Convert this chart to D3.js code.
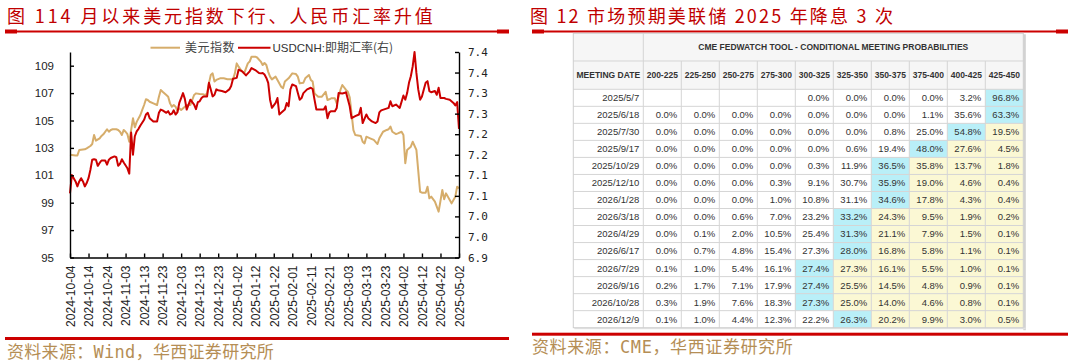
<!DOCTYPE html>
<html><head><meta charset="utf-8">
<script src="https://cdn.jsdelivr.net/npm/d3@7"></script>
<style>
body{margin:0;background:#fff;}
svg{display:block;}
</style></head><body>
<svg id="c" width="1074" height="362"></svg>
<script>
// ---------------- DATA ----------------
const dxy = [
["2024-10-04",102.5],["2024-10-07",102.45],["2024-10-08",102.45],["2024-10-09",102.85],["2024-10-12",102.9],["2024-10-13",102.97],["2024-10-15",103.14],["2024-10-16",103.28],["2024-10-17",103.94],["2024-10-18",103.53],["2024-10-20",103.7],["2024-10-21",103.87],["2024-10-22",103.99],["2024-10-24",104.36],["2024-10-25",104.18],["2024-10-26",104.31],["2024-10-27",104.36],["2024-10-29",104.36],["2024-10-30",104.31],["2024-10-31",104.18],["2024-11-01",103.94],["2024-11-02",104.31],["2024-11-03",104.18],["2024-11-04",104.0],["2024-11-05",103.45],["2024-11-07",105.16],["2024-11-08",104.5],["2024-11-09",104.9],["2024-11-11",105.4],["2024-11-12",105.77],["2024-11-13",106.13],["2024-11-14",106.55],["2024-11-15",106.5],["2024-11-16",106.37],["2024-11-18",106.25],["2024-11-20",106.13],["2024-11-21",106.74],["2024-11-22",107.23],["2024-11-23",107.1],["2024-11-25",106.86],["2024-11-26",106.74],["2024-11-27",106.25],["2024-11-28",106.01],["2024-11-29",106.13],["2024-11-30",106.01],["2024-12-01",105.69],["2024-12-02",105.89],["2024-12-03",105.77],["2024-12-05",106.01],["2024-12-06",106.13],["2024-12-08",106.13],["2024-12-09",106.5],["2024-12-10",106.86],["2024-12-11",106.98],["2024-12-13",106.93],["2024-12-15",106.91],["2024-12-16",106.86],["2024-12-17",106.98],["2024-12-18",107.71],["2024-12-19",108.32],["2024-12-20",108.44],["2024-12-21",107.84],["2024-12-22",107.96],["2024-12-24",108.08],["2024-12-26",108.08],["2024-12-28",108.01],["2024-12-29",108.01],["2024-12-31",108.01],["2025-01-01",108.44],["2025-01-02",109.17],["2025-01-03",108.93],["2025-01-05",108.56],["2025-01-06",108.44],["2025-01-07",108.81],["2025-01-08",109.17],["2025-01-09",109.3],["2025-01-10",109.66],["2025-01-12",109.66],["2025-01-13",109.6],["2025-01-15",109.3],["2025-01-16",109.05],["2025-01-17",109.2],["2025-01-18",109.05],["2025-01-19",108.55],["2025-01-20",108.2],["2025-01-21",108.0],["2025-01-23",108.2],["2025-01-24",107.96],["2025-01-26",107.47],["2025-01-27",107.35],["2025-01-28",107.84],["2025-01-30",108.08],["2025-02-01",108.44],["2025-02-03",108.39],["2025-02-04",108.2],["2025-02-05",107.71],["2025-02-07",107.76],["2025-02-08",108.08],["2025-02-10",108.32],["2025-02-11",107.96],["2025-02-12",107.84],["2025-02-13",106.98],["2025-02-15",106.74],["2025-02-17",106.74],["2025-02-19",107.1],["2025-02-20",106.5],["2025-02-21",106.55],["2025-02-22",106.62],["2025-02-24",106.62],["2025-02-25",106.25],["2025-02-27",107.23],["2025-02-28",107.59],["2025-03-02",107.23],["2025-03-03",107.1],["2025-03-04",106.7],["2025-03-05",105.5],["2025-03-06",104.3],["2025-03-07",103.94],["2025-03-10",103.87],["2025-03-11",103.45],["2025-03-12",103.33],["2025-03-13",103.82],["2025-03-15",103.7],["2025-03-17",103.58],["2025-03-19",103.28],["2025-03-20",103.7],["2025-03-22",104.18],["2025-03-24",104.31],["2025-03-25",104.36],["2025-03-26",104.55],["2025-03-27",104.18],["2025-03-29",104.01],["2025-03-30",104.06],["2025-04-01",104.18],["2025-04-02",103.94],["2025-04-03",101.88],["2025-04-04",102.85],["2025-04-06",103.09],["2025-04-07",103.45],["2025-04-09",102.85],["2025-04-11",99.8],["2025-04-12",99.73],["2025-04-14",99.73],["2025-04-15",100.17],["2025-04-16",99.32],["2025-04-17",99.44],["2025-04-19",99.08],["2025-04-21",98.35],["2025-04-23",99.93],["2025-04-24",99.25],["2025-04-25",99.68],["2025-04-27",99.2],["2025-04-28",98.95],["2025-04-30",99.44],["2025-05-01",100.17],["2025-05-02",100.05]
];
const usdcnh = [
["2024-10-04",7.056],["2024-10-05",7.101],["2024-10-07",7.085],["2024-10-08",7.073],["2024-10-09",7.085],["2024-10-10",7.093],["2024-10-11",7.085],["2024-10-12",7.073],["2024-10-13",7.081],["2024-10-14",7.093],["2024-10-15",7.113],["2024-10-16",7.138],["2024-10-17",7.139],["2024-10-18",7.138],["2024-10-19",7.123],["2024-10-20",7.130],["2024-10-21",7.136],["2024-10-23",7.136],["2024-10-24",7.126],["2024-10-25",7.138],["2024-10-26",7.142],["2024-10-28",7.146],["2024-10-29",7.144],["2024-10-30",7.123],["2024-10-31",7.128],["2024-11-01",7.139],["2024-11-02",7.131],["2024-11-04",7.117],["2024-11-05",7.104],["2024-11-06",7.204],["2024-11-07",7.150],["2024-11-08",7.195],["2024-11-09",7.207],["2024-11-10",7.213],["2024-11-11",7.221],["2024-11-13",7.235],["2024-11-14",7.248],["2024-11-15",7.252],["2024-11-16",7.239],["2024-11-18",7.231],["2024-11-20",7.231],["2024-11-21",7.252],["2024-11-22",7.260],["2024-11-23",7.258],["2024-11-25",7.252],["2024-11-26",7.256],["2024-11-27",7.248],["2024-11-28",7.250],["2024-11-29",7.258],["2024-11-30",7.248],["2024-12-01",7.253],["2024-12-02",7.276],["2024-12-03",7.288],["2024-12-04",7.300],["2024-12-05",7.286],["2024-12-06",7.260],["2024-12-07",7.272],["2024-12-08",7.284],["2024-12-09",7.278],["2024-12-10",7.272],["2024-12-11",7.261],["2024-12-12",7.278],["2024-12-13",7.280],["2024-12-14",7.288],["2024-12-15",7.292],["2024-12-17",7.292],["2024-12-18",7.325],["2024-12-19",7.309],["2024-12-20",7.292],["2024-12-21",7.296],["2024-12-22",7.309],["2024-12-23",7.307],["2024-12-25",7.305],["2024-12-27",7.302],["2024-12-29",7.309],["2024-12-30",7.317],["2024-12-31",7.335],["2025-01-02",7.337],["2025-01-03",7.357],["2025-01-05",7.353],["2025-01-06",7.348],["2025-01-07",7.343],["2025-01-09",7.353],["2025-01-10",7.361],["2025-01-12",7.356],["2025-01-14",7.349],["2025-01-15",7.348],["2025-01-16",7.349],["2025-01-17",7.345],["2025-01-18",7.337],["2025-01-19",7.325],["2025-01-20",7.284],["2025-01-21",7.264],["2025-01-23",7.276],["2025-01-24",7.288],["2025-01-25",7.248],["2025-01-26",7.252],["2025-01-28",7.260],["2025-01-29",7.276],["2025-01-30",7.268],["2025-01-31",7.309],["2025-02-01",7.321],["2025-02-03",7.317],["2025-02-04",7.300],["2025-02-05",7.284],["2025-02-06",7.288],["2025-02-07",7.300],["2025-02-09",7.309],["2025-02-11",7.313],["2025-02-12",7.310],["2025-02-13",7.284],["2025-02-14",7.260],["2025-02-16",7.260],["2025-02-18",7.260],["2025-02-19",7.268],["2025-02-20",7.239],["2025-02-21",7.253],["2025-02-22",7.256],["2025-02-24",7.256],["2025-02-25",7.264],["2025-02-26",7.300],["2025-02-28",7.299],["2025-03-01",7.300],["2025-03-02",7.302],["2025-03-04",7.268],["2025-03-05",7.239],["2025-03-07",7.244],["2025-03-09",7.248],["2025-03-10",7.264],["2025-03-11",7.227],["2025-03-13",7.248],["2025-03-14",7.239],["2025-03-16",7.231],["2025-03-18",7.227],["2025-03-19",7.231],["2025-03-20",7.253],["2025-03-21",7.258],["2025-03-23",7.261],["2025-03-25",7.264],["2025-03-26",7.280],["2025-03-27",7.268],["2025-03-29",7.272],["2025-03-30",7.268],["2025-03-31",7.264],["2025-04-02",7.294],["2025-04-03",7.284],["2025-04-04",7.300],["2025-04-05",7.325],["2025-04-06",7.341],["2025-04-07",7.365],["2025-04-08",7.400],["2025-04-09",7.349],["2025-04-10",7.309],["2025-04-11",7.284],["2025-04-12",7.292],["2025-04-13",7.309],["2025-04-14",7.325],["2025-04-15",7.329],["2025-04-16",7.305],["2025-04-17",7.302],["2025-04-19",7.305],["2025-04-20",7.296],["2025-04-21",7.313],["2025-04-22",7.288],["2025-04-24",7.288],["2025-04-25",7.286],["2025-04-27",7.284],["2025-04-29",7.276],["2025-04-30",7.270],["2025-05-01",7.278],["2025-05-02",7.213]
];
const xTickLabels = ["2024-10-04","2024-10-14","2024-10-24","2024-11-03","2024-11-13","2024-11-23","2024-12-03","2024-12-13","2024-12-23","2025-01-02","2025-01-12","2025-01-22","2025-02-01","2025-02-11","2025-02-21","2025-03-03","2025-03-13","2025-03-23","2025-04-02","2025-04-12","2025-04-22","2025-05-02"];
const leftTicks = [95,97,99,101,103,105,107,109];
const rightTicks = [6.9,6.95,7.0,7.05,7.1,7.15,7.2,7.25,7.3,7.35,7.4];
const rightTickLabels = ["6.9","7.0","7.0","7.1","7.1","7.2","7.2","7.3","7.3","7.4","7.4"];
const seriesNames = ["美元指数","USDCNH:","即期汇率(右)"];

const meetingDates = ["2025/5/7","2025/6/18","2025/7/30","2025/9/17","2025/10/29","2025/12/10","2026/1/28","2026/3/18","2026/4/29","2026/6/17","2026/7/29","2026/9/16","2026/10/28","2026/12/9"];
const rateRanges = ["200-225","225-250","250-275","275-300","300-325","325-350","350-375","375-400","400-425","425-450"];
const probs = [
[null,null,null,null,0.0,0.0,0.0,0.0,3.2,96.8],
[0.0,0.0,0.0,0.0,0.0,0.0,0.0,1.1,35.6,63.3],
[0.0,0.0,0.0,0.0,0.0,0.0,0.8,25.0,54.8,19.5],
[0.0,0.0,0.0,0.0,0.0,0.6,19.4,48.0,27.6,4.5],
[0.0,0.0,0.0,0.0,0.3,11.9,36.5,35.8,13.7,1.8],
[0.0,0.0,0.0,0.3,9.1,30.7,35.9,19.0,4.6,0.4],
[0.0,0.0,0.0,1.0,10.8,31.1,34.6,17.8,4.3,0.4],
[0.0,0.0,0.6,7.0,23.2,33.2,24.3,9.5,1.9,0.2],
[0.0,0.1,2.0,10.5,25.4,31.3,21.1,7.9,1.5,0.1],
[0.0,0.7,4.8,15.4,27.3,28.0,16.8,5.8,1.1,0.1],
[0.1,1.0,5.4,16.1,27.4,27.3,16.1,5.5,1.0,0.1],
[0.2,1.7,7.1,17.9,27.4,25.5,14.5,4.8,0.9,0.1],
[0.3,1.9,7.6,18.3,27.3,25.0,14.0,4.6,0.8,0.1],
[0.1,1.0,4.4,12.3,22.2,26.3,20.2,9.9,3.0,0.5]
];
const tableTitle = "CME FEDWATCH TOOL - CONDITIONAL MEETING PROBABILITIES";
const firstColHeader = "MEETING DATE";

// ---------------- DRAW ----------------
const svg = d3.select("#c");
const parse = d3.timeParse("%Y-%m-%d");
const CJK = "'Noto Sans CJK SC','Noto Sans',sans-serif";
const SANS = "'Liberation Sans',Arial,sans-serif";
const RED = "#c00000", LINE_RED = "#cc0000", TAN = "#d6ad6b", SRC = "#b58e55";

function titleRule(x1, x2, y) {
  svg.append("rect").attr("x", x1).attr("y", y - 1).attr("width", x2 - x1).attr("height", 2).attr("fill", LINE_RED);
  svg.append("rect").attr("x", x1).attr("y", y - 2).attr("width", 12).attr("height", 4).attr("fill", LINE_RED);
  svg.append("rect").attr("x", x2 - 12).attr("y", y - 2).attr("width", 12).attr("height", 4).attr("fill", LINE_RED);
}
function bottomRule(x1, x2, y) {
  svg.append("rect").attr("x", x1).attr("y", y - 1.5).attr("width", x2 - x1).attr("height", 3).attr("fill", LINE_RED);
}

// Titles
svg.append("text").attr("x", 7).attr("y", 23).attr("font-family", CJK).attr("font-size", 18)
  .attr("letter-spacing", 2.9).attr("fill", RED).text("图 114 月以来美元指数下行、人民币汇率升值");
titleRule(5, 509, 31.5);
svg.append("text").attr("x", 530).attr("y", 23).attr("font-family", CJK).attr("font-size", 18)
  .attr("letter-spacing", 2.2).attr("fill", RED).text("图 12 市场预期美联储 2025 年降息 3 次");
titleRule(532, 1068, 31.5);

// Sources
bottomRule(5, 509, 338.5);
svg.append("text").attr("x", 7).attr("y", 357.5).attr("font-family", "'DejaVu Sans Mono','Noto Sans CJK SC',monospace")
  .attr("font-size", 17).attr("letter-spacing", 0.3).attr("fill", SRC).text("资料来源：Wind，华西证券研究所");
bottomRule(532, 1068, 334.2);
svg.append("text").attr("x", 532).attr("y", 353).attr("font-family", "'DejaVu Sans Mono','Noto Sans CJK SC',monospace")
  .attr("font-size", 17).attr("letter-spacing", 0.6).attr("fill", SRC).text("资料来源：CME，华西证券研究所");

// ---------- Left chart ----------
const x = d3.scaleTime().domain([parse(xTickLabels[0]), parse(xTickLabels[xTickLabels.length - 1])]).range([70, 459]);
const yL = d3.scaleLinear().domain([95, 110]).range([257.5, 52]);
const yR = d3.scaleLinear().domain([6.9, 7.4]).range([257.5, 52]);

const lineL = d3.line().x(d => x(parse(d[0]))).y(d => yL(d[1]));
const lineR = d3.line().x(d => x(parse(d[0]))).y(d => yR(d[1]));
svg.append("path").datum(dxy).attr("d", lineL).attr("fill", "none").attr("stroke", TAN).attr("stroke-width", 2).attr("stroke-linejoin", "round");
svg.append("path").datum(usdcnh).attr("d", lineR).attr("fill", "none").attr("stroke", LINE_RED).attr("stroke-width", 2).attr("stroke-linejoin", "round");

const gx = svg.append("g").attr("transform", "translate(0,257.5)")
  .call(d3.axisBottom(x).tickValues(xTickLabels.map(parse)).tickSizeInner(-4).tickSizeOuter(0).tickFormat(d3.timeFormat("%Y-%m-%d")));
gx.selectAll("text").attr("transform", "rotate(-90)").attr("x", -8).attr("y", 0).attr("dy", "0.36em")
  .attr("text-anchor", "end").attr("font-family", SANS).attr("font-size", 12).attr("fill", "#222");

const gl = svg.append("g").attr("transform", "translate(70,0)")
  .call(d3.axisLeft(yL).tickValues(leftTicks).tickSizeInner(-4).tickSizeOuter(0).tickPadding(16).tickFormat(d3.format("d")));
gl.selectAll("text").attr("font-family", SANS).attr("font-size", 11.5).attr("fill", "#222");

const gr = svg.append("g").attr("transform", "translate(459,0)")
  .call(d3.axisRight(yR).tickValues(rightTicks).tickSizeInner(-4).tickSizeOuter(0).tickPadding(9)
    .tickFormat((d, i) => rightTickLabels[i]));
gr.selectAll("text").attr("font-family", "'DejaVu Sans Mono',monospace").attr("font-size", 11).attr("fill", "#222");

[gx, gl, gr].forEach(g => { g.selectAll("path,line").attr("stroke", "#000").attr("stroke-width", 1.4); });

// Legend
const ly = 47.7;
svg.append("line").attr("x1", 150.5).attr("x2", 180).attr("y1", ly).attr("y2", ly).attr("stroke", TAN).attr("stroke-width", 2);
svg.append("text").attr("x", 185).attr("y", ly + 4.2).attr("font-family", CJK).attr("font-size", 12).attr("letter-spacing", 0.5)
  .attr("fill", "#444").text(seriesNames[0]);
svg.append("line").attr("x1", 238).attr("x2", 270.5).attr("y1", ly).attr("y2", ly).attr("stroke", LINE_RED).attr("stroke-width", 2);
const lt = svg.append("text").attr("x", 272.5).attr("y", ly + 4.2).attr("fill", "#333");
lt.append("tspan").attr("font-family", "'Liberation Sans Narrow','Arial Narrow','Liberation Sans',sans-serif")
  .attr("font-size", 11.5).text(seriesNames[1]);
lt.append("tspan").attr("font-family", CJK).attr("font-size", 12).attr("fill", "#444").text(seriesNames[2]);

// ---------- Table ----------
const tx0 = 573.3, tx1 = 1023.3, ty0 = 33.3, tyH = 61, tyD = 89.3, ty1 = 327.7;
const col0R = 643.3;
const xc = d3.scaleBand().domain(rateRanges).range([col0R, tx1]);
const yr = d3.scaleBand().domain(meetingDates).range([tyD, ty1]);
const GRID = "#d5d5d5";
const tg = svg.append("g");

// shadow
tg.append("rect").attr("x", tx1).attr("y", ty0 + 1).attr("width", 2.5).attr("height", ty1 - ty0 + 1.5).attr("fill", "#d2d2d2");
tg.append("rect").attr("x", tx0 + 1).attr("y", ty1).attr("width", tx1 - tx0 + 1.5).attr("height", 1.5).attr("fill", "#e2e2e2");
// header bg
tg.append("rect").attr("x", tx0).attr("y", ty0).attr("width", tx1 - tx0).attr("height", tyD - ty0).attr("fill", "#f6f6f6");
tg.append("rect").attr("x", tx0).attr("y", tyD).attr("width", tx1 - tx0).attr("height", ty1 - tyD).attr("fill", "#fff");

// cell backgrounds
const cells = [];
probs.forEach((row, i) => {
  const vals = row.map(v => v == null ? -1 : v);
  const mx = d3.maxIndex(vals);
  row.forEach((v, j) => cells.push({ r: meetingDates[i], c: rateRanges[j], v, kind: j === mx ? "max" : (j > mx ? "above" : "none") }));
});
tg.selectAll("rect.cell").data(cells.filter(d => d.kind !== "none")).join("rect").attr("class", "cell")
  .attr("x", d => xc(d.c)).attr("y", d => yr(d.r)).attr("width", xc.bandwidth()).attr("height", yr.bandwidth())
  .attr("fill", d => d.kind === "max" ? "#b9eff8" : "#fbf8d4");

// grid
const hLines = [tyH, tyD].concat(meetingDates.slice(1).map(d => yr(d)));
tg.selectAll("line.h").data(hLines).join("line").attr("class", "h")
  .attr("x1", tx0).attr("x2", tx1).attr("y1", d => d).attr("y2", d => d).attr("stroke", GRID).attr("stroke-width", 1);
tg.append("line").attr("x1", col0R).attr("x2", col0R).attr("y1", ty0).attr("y2", ty1).attr("stroke", GRID);
tg.selectAll("line.v").data(rateRanges.slice(1)).join("line").attr("class", "v")
  .attr("x1", d => xc(d)).attr("x2", d => xc(d)).attr("y1", tyH).attr("y2", ty1).attr("stroke", GRID);
tg.append("rect").attr("x", tx0).attr("y", ty0).attr("width", tx1 - tx0).attr("height", ty1 - ty0)
  .attr("fill", "none").attr("stroke", "#cfcfcf");

// header text
tg.append("text").attr("x", (col0R + tx1) / 2).attr("y", (ty0 + tyH) / 2 + 3).attr("text-anchor", "middle")
  .attr("font-family", SANS).attr("font-weight", "bold").attr("font-size", 8.5).attr("fill", "#333").text(tableTitle);
tg.append("text").attr("x", (tx0 + col0R) / 2).attr("y", (tyH + tyD) / 2 + 3).attr("text-anchor", "middle")
  .attr("font-family", SANS).attr("font-weight", "bold").attr("font-size", 8.5).attr("fill", "#333").text(firstColHeader);
tg.selectAll("text.rh").data(rateRanges).join("text").attr("class", "rh")
  .attr("x", d => xc(d) + xc.bandwidth() / 2).attr("y", (tyH + tyD) / 2 + 3).attr("text-anchor", "middle")
  .attr("font-family", SANS).attr("font-weight", "bold").attr("font-size", 8.5).attr("fill", "#333").text(d => d);

// body text
tg.selectAll("text.md").data(meetingDates).join("text").attr("class", "md")
  .attr("x", col0R - 4).attr("y", d => yr(d) + yr.bandwidth() / 2 + 3.4).attr("text-anchor", "end")
  .attr("font-family", SANS).attr("font-size", 9.5).attr("fill", "#333").text(d => d);
tg.selectAll("text.pv").data(cells.filter(d => d.v != null)).join("text").attr("class", "pv")
  .attr("x", d => xc(d.c) + xc.bandwidth() - 4).attr("y", d => yr(d.r) + yr.bandwidth() / 2 + 3.4).attr("text-anchor", "end")
  .attr("font-family", SANS).attr("font-size", 9.5).attr("fill", "#333").text(d => d.v.toFixed(1) + "%");
</script>
</body></html>
